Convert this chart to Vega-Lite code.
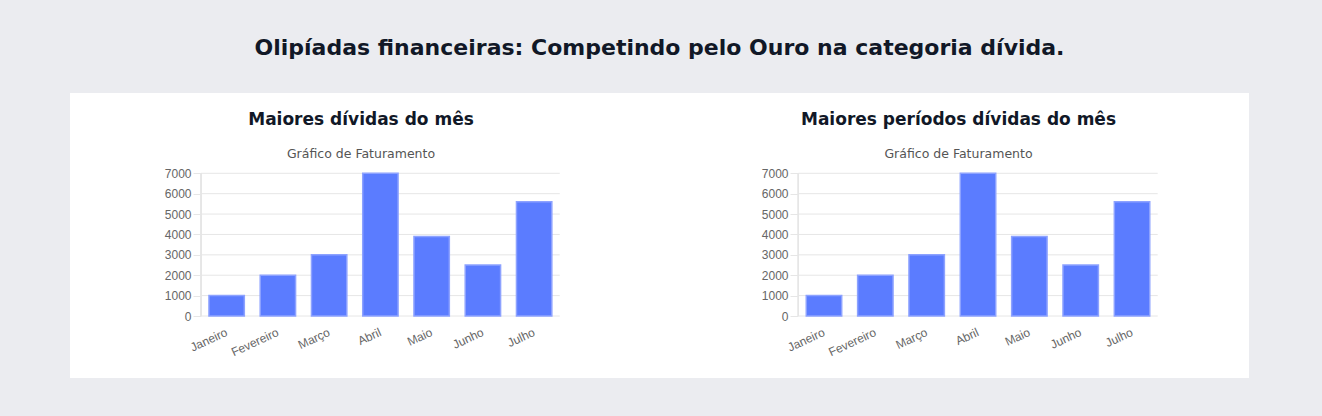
{
  "$schema": "https://vega.github.io/schema/vega-lite/v6.json",
  "background": "#ebecf0",
  "padding": {"left": 70, "right": 73, "top": 37, "bottom": 39},
  "title": {
    "text": "Olipíadas financeiras: Competindo pelo Ouro na categoria dívida.",
    "anchor": "middle",
    "frame": "bounds",
    "font": "DejaVu Sans",
    "fontSize": 22,
    "fontWeight": "bold",
    "color": "#111827",
    "offset": 33
  },
  "datasets": {
    "meses": [
      {"mes": "Janeiro", "valor": 1000},
      {"mes": "Fevereiro", "valor": 2000},
      {"mes": "Março", "valor": 3000},
      {"mes": "Abril", "valor": 7000},
      {"mes": "Maio", "valor": 3900},
      {"mes": "Junho", "valor": 2500},
      {"mes": "Julho", "valor": 5600}
    ],
    "grade": [
      {"v": 0}, {"v": 1000}, {"v": 2000}, {"v": 3000},
      {"v": 4000}, {"v": 5000}, {"v": 6000}, {"v": 7000}
    ]
  },
  "spacing": 0,
  "hconcat": [
    {
      "width": 590,
      "height": 285,
      "view": {"fill": "white", "stroke": null},
      "title": {
        "text": "Maiores dívidas do mês",
        "subtitle": "Gráfico de Faturamento",
        "anchor": "middle",
        "frame": "group",
        "offset": -68,
        "dx": -4
      },
      "layer": [
        {
          "data": {"name": "grade"},
          "mark": {"type": "rule", "color": "#e6e6e6", "strokeWidth": 1},
          "encoding": {
            "x": {"datum": "Janeiro", "type": "nominal", "bandPosition": 0},
            "x2": {"datum": "Julho", "bandPosition": 1},
            "y": {"field": "v", "type": "quantitative"}
          }
        },
        {
          "data": {"name": "grade"},
          "mark": {"type": "rule", "color": "#e6e6e6", "strokeWidth": 1},
          "encoding": {
            "x": {"datum": "Janeiro", "type": "nominal", "bandPosition": 0},
            "y": {"datum": 0, "type": "quantitative"},
            "y2": {"datum": 7000}
          }
        },
        {
          "data": {"name": "meses"},
          "mark": {"type": "bar", "width": {"band": 0.69}, "fill": "#5b7cff", "stroke": "#8da2ff", "strokeWidth": 1.5},
          "encoding": {
            "x": {
              "field": "mes", "type": "nominal",
              "scale": {"domain": [" ", "  ", "Janeiro", "Fevereiro", "Março", "Abril", "Maio", "Junho", "Julho", "   "], "paddingInner": 0, "paddingOuter": 0.756, "align": 0.368},
              "axis": {"orient": "bottom", "offset": -62, "domain": false, "ticks": false, "tickSize": 0, "grid": false, "labelAngle": -25, "labelAlign": "right", "labelBaseline": "middle", "labelPadding": 15, "labelFont": "Liberation Sans", "labelFontSize": 12, "labelColor": "#666666", "labelOverlap": false, "title": null}
            },
            "y": {
              "field": "valor", "type": "quantitative",
              "scale": {"domain": [-3041, 10939], "nice": false, "zero": false},
              "axis": {"values": [0, 1000, 2000, 3000, 4000, 5000, 6000, 7000], "format": "d", "offset": -131, "grid": false, "domain": false, "ticks": true, "tickSize": 8, "tickColor": "#e6e6e6", "labelPadding": 2, "labelFont": "Liberation Sans", "labelFontSize": 12, "labelColor": "#666666", "title": null}
            }
          }
        }
      ]
    },
    {
      "width": 589,
      "height": 285,
      "view": {"fill": "white", "stroke": null},
      "title": {
        "text": "Maiores períodos dívidas do mês",
        "subtitle": "Gráfico de Faturamento",
        "anchor": "middle",
        "frame": "group",
        "offset": -68,
        "dx": 4
      },
      "layer": [
        {
          "data": {"name": "grade"},
          "mark": {"type": "rule", "color": "#e6e6e6", "strokeWidth": 1},
          "encoding": {
            "x": {"datum": "Janeiro", "type": "nominal", "bandPosition": 0},
            "x2": {"datum": "Julho", "bandPosition": 1},
            "y": {"field": "v", "type": "quantitative"}
          }
        },
        {
          "data": {"name": "grade"},
          "mark": {"type": "rule", "color": "#e6e6e6", "strokeWidth": 1},
          "encoding": {
            "x": {"datum": "Janeiro", "type": "nominal", "bandPosition": 0},
            "y": {"datum": 0, "type": "quantitative"},
            "y2": {"datum": 7000}
          }
        },
        {
          "data": {"name": "meses"},
          "mark": {"type": "bar", "width": {"band": 0.69}, "fill": "#5b7cff", "stroke": "#8da2ff", "strokeWidth": 1.5},
          "encoding": {
            "x": {
              "field": "mes", "type": "nominal",
              "scale": {"domain": [" ", "  ", "Janeiro", "Fevereiro", "Março", "Abril", "Maio", "Junho", "Julho", "   "], "paddingInner": 0, "paddingOuter": 0.736, "align": 0.4715},
              "axis": {"orient": "bottom", "offset": -62, "domain": false, "ticks": false, "tickSize": 0, "grid": false, "labelAngle": -25, "labelAlign": "right", "labelBaseline": "middle", "labelPadding": 15, "labelFont": "Liberation Sans", "labelFontSize": 12, "labelColor": "#666666", "labelOverlap": false, "title": null}
            },
            "y": {
              "field": "valor", "type": "quantitative",
              "scale": {"domain": [-3041, 10939], "nice": false, "zero": false},
              "axis": {"values": [0, 1000, 2000, 3000, 4000, 5000, 6000, 7000], "format": "d", "offset": -138, "grid": false, "domain": false, "ticks": true, "tickSize": 8, "tickColor": "#e6e6e6", "labelPadding": 2, "labelFont": "Liberation Sans", "labelFontSize": 12, "labelColor": "#666666", "title": null}
            }
          }
        }
      ]
    }
  ],
  "config": {
    "title": {
      "font": "DejaVu Sans",
      "fontSize": 17,
      "fontWeight": "bold",
      "color": "#111827",
      "subtitleFont": "DejaVu Sans",
      "subtitleFontSize": 12.5,
      "subtitleColor": "#555555",
      "subtitlePadding": 19
    }
  }
}
